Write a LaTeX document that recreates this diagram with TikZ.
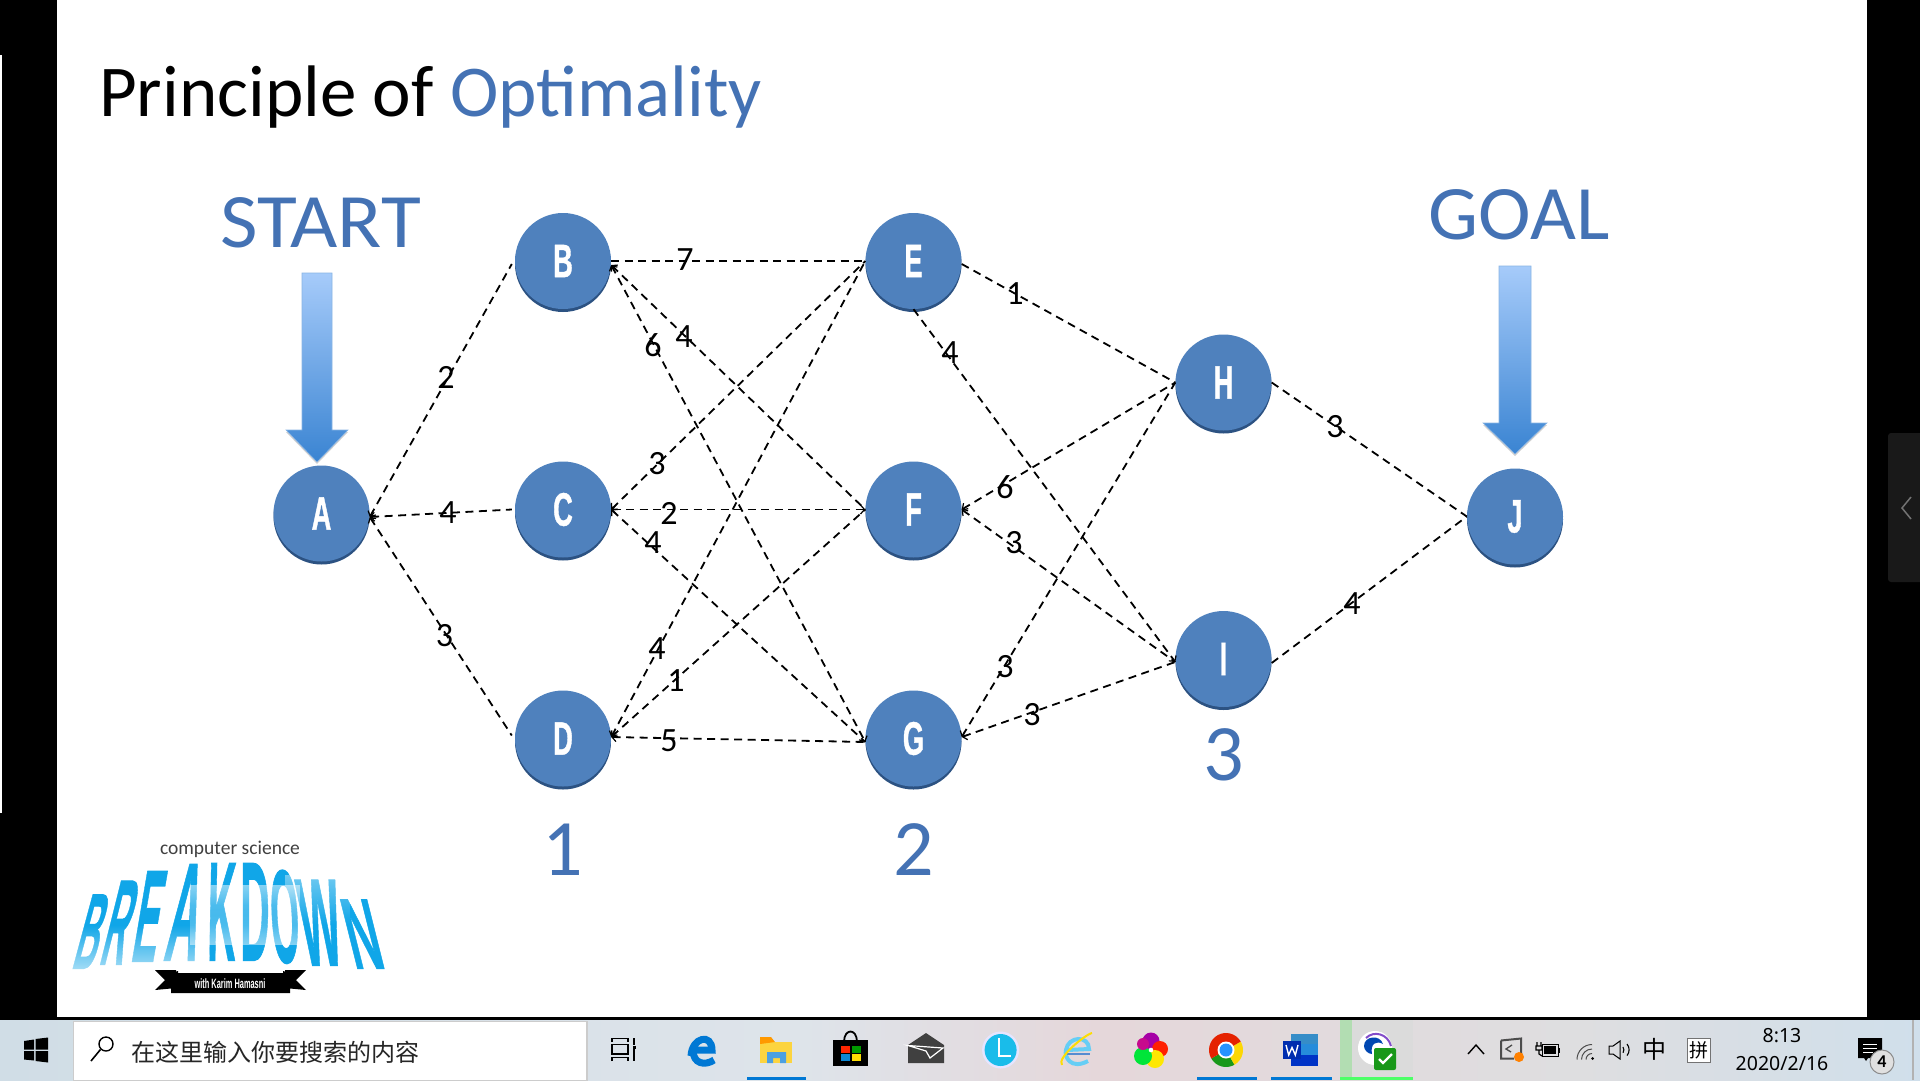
\documentclass[tikz,border=0pt]{standalone}
\usepackage{fontspec}
\usetikzlibrary{arrows.meta,fadings,shapes.geometric}
\setmainfont{Carlito}
\newfontfamily\condb[FakeStretch=0.58,FakeBold=0.8]{Liberation Sans Bold}
\newfontfamily\logof[FakeBold=1]{Liberation Sans Bold}
\newfontfamily\ribf[FakeStretch=0.55]{Liberation Sans Bold}
\newfontfamily\cjk{Noto Sans CJK SC}
\newfontfamily\clockf{Noto Sans}
\newfontfamily\startf[FakeStretch=1.06]{Carlito}
\newfontfamily\goalf[FakeStretch=1.03]{Carlito}
\definecolor{slideblue}{HTML}{4472B4}
\definecolor{nodeblue}{HTML}{4F81BD}
\definecolor{lipblue}{HTML}{2C5282}
\definecolor{barblue}{HTML}{0078D4}
\definecolor{logoblue}{HTML}{10A6E8}
\definecolor{arrowtop}{HTML}{A6CBFA}
\definecolor{arrowbot}{HTML}{3A84D2}
\tikzset{
  vtx/.style={circle,draw=none,fill=nodeblue,minimum size=96pt,inner sep=0pt,text=white,
    font=\condb\fontsize{47}{47}\selectfont,
    preaction={fill=lipblue,transform canvas={yshift=-3pt}}},
  edgeline/.style={draw=black,line width=1.8pt,dash pattern=on 8pt off 5.5pt},
  lefttip/.style={edgeline,{Straight Barb[length=4pt,width=9pt,line width=1.2pt]}-},
  bothtip/.style={edgeline,{Straight Barb[length=4pt,width=9pt,line width=1.2pt]}-{Straight Barb[length=4pt,width=9pt,line width=1.2pt]}},
  righttip/.style={edgeline,-{Straight Barb[length=4pt,width=9pt,line width=1.2pt]}},
  wlabel/.style={inner sep=0pt,text=black,font=\fontsize{34}{34}\selectfont},
  stagenum/.style={inner sep=0pt,text=slideblue,anchor=base,font=\fontsize{80}{80}\selectfont},
  ulbar/.style={fill=barblue,draw=none},
}
\newcommand{\logoL}[7]{% name,x,y,letter,yscale,slant,xscale
  \begin{scope}[shift={(#2,#3)},xslant=#6,yscale=#5,xscale=#7]
    \node[transform shape,inner sep=0pt,anchor=south,text=logoblue,text height=34.4pt,text depth=0pt,font=\logof\fontsize{48}{48}\selectfont] (#1) at (0,0) {#4};
  \end{scope}}
\begin{document}
\begin{tikzpicture}[x=1pt,y=-1pt]
\useasboundingbox (0,0) rectangle (1920,1080);
% screen background
\fill[black] (0,0) rectangle (1920,1080);
\fill[white] (57,0) rectangle (1867,1017);
\fill[white] (0,55) rectangle (2,813);
\fill[black!90!white,rounded corners=3pt] (1888,433) rectangle (1925,582);
\draw[black!55!white,line width=1.5pt] (1911,497) -- (1902,508) -- (1911,519);

% taskbar
\fill[left color={rgb,255:red,208;green,221;blue,230},right color={rgb,255:red,222;green,228;blue,234}] (0,1020) rectangle (800,1080);
\fill[left color={rgb,255:red,222;green,228;blue,234},right color={rgb,255:red,229;green,215;blue,218}] (800,1020) rectangle (1100,1080);
\fill[left color={rgb,255:red,229;green,215;blue,218},right color={rgb,255:red,222;green,222;blue,224}] (1100,1020) rectangle (1580,1080);
\fill[left color={rgb,255:red,222;green,222;blue,224},right color={rgb,255:red,208;green,223;blue,235}] (1580,1020) rectangle (1920,1080);
\fill[black!30!white] (1912,1020) rectangle (1914,1080);
% windows logo
\fill[black] (24,1041) -- (34,1039.5) -- (34,1049.5) -- (24,1049.5) -- cycle;
\fill[black] (35.5,1039) -- (48,1037.5) -- (48,1049.5) -- (35.5,1049.5) -- cycle;
\fill[black] (24,1051) -- (34,1051) -- (34,1060.5) -- (24,1059.5) -- cycle;
\fill[black] (35.5,1051) -- (48,1051) -- (48,1062.5) -- (35.5,1061) -- cycle;
% search box
\fill[white,draw=black!20!white,line width=1.5pt] (73.5,1021.5) rectangle (587,1081);
\draw[black,line width=1.4pt] (106,1044) circle[radius=7pt];
\draw[black,line width=1.6pt] (100.5,1049.5) -- (91,1061);
\node[inner sep=0pt,anchor=west,text=black!85!white,font=\cjk\fontsize{24}{24}\selectfont] (searchtext) at (131.5,1052) {在这里输入你要搜索的内容};
% task view
\draw[black,line width=1.2pt] (612,1042) -- (612,1038.5) -- (628,1038.5) -- (628,1042);
\draw[black,line width=1.2pt] (612,1044.5) rectangle (628,1054);
\draw[black,line width=1.2pt] (612,1061) -- (612,1057.5) -- (628,1057.5) -- (628,1061);
\draw[black,line width=1.2pt] (634,1038) -- (634,1045) (634,1049) -- (634,1061);
\fill[black] (632.5,1045.5) rectangle (635.5,1048.5);
% edge icon
\draw[barblue,line width=7pt] (691,1056) .. controls (692,1037) and (712,1033) .. (712,1050) -- (694,1050);
\draw[barblue,line width=7pt] (693,1050) .. controls (693,1064) and (705,1066) .. (714,1060);
% folder
\fill[yellow!60!orange!75!white] (760,1042) rectangle (792,1063);
\fill[orange!80!yellow] (760,1037) -- (771,1037) -- (775,1042) -- (760,1044) -- cycle;
\fill[barblue!70!white] (767,1063) -- (767,1052) -- (786,1052) -- (786,1063) -- (780,1063) -- (780,1058) -- (773,1058) -- (773,1063) -- cycle;
\fill[ulbar] (746.5,1077) rectangle (806,1080);
% store
\draw[black,line width=1.8pt] (844,1042) .. controls (844,1028) and (857,1028) .. (857,1042);
\fill[black] (833,1040) rectangle (868,1066);
\fill[red!70!orange] (841,1045.5) rectangle (850,1052.5);
\fill[green!60!black] (851.5,1045.5) rectangle (860.5,1052.5);
\fill[cyan!70!blue] (841,1053.5) rectangle (850,1061);
\fill[yellow!80!orange] (851.5,1053.5) rectangle (860.5,1061);
% mail
\fill[black!75!white] (908,1045) -- (926,1033) -- (944,1045) -- (944,1063) -- (908,1063) -- cycle;
\draw[white,line width=1.2pt] (908,1045.5) -- (943,1048) -- (930,1058) -- (926,1051) -- cycle;
% L clock
\fill[blue!10!white] (1000.6,1050) circle[radius=18.5pt];
\fill[barblue!55!cyan!90!white] (1000.6,1050) circle[radius=16pt];
\draw[white,line width=2.4pt] (999,1038) -- (999,1056) -- (1011,1056);
% IE
\draw[cyan!60!white,line width=4pt] (1088,1061) .. controls (1071,1070) and (1064,1057) .. (1066,1050) .. controls (1068,1036) and (1089,1035) .. (1089,1049) -- (1067,1050);
\draw[cyan!50!blue!70!white,line width=1.5pt] (1067,1054) -- (1090,1054);
\draw[yellow!80!orange,line width=2pt] (1062,1065) .. controls (1056,1058) and (1086,1034) .. (1092,1033);
% colour wheel
\fill[violet!70!magenta] (1151,1041) circle[radius=8.5pt];
\fill[red!75!orange] (1160,1049) circle[radius=8pt];
\fill[yellow!90!orange] (1155,1059) circle[radius=9pt];
\fill[green!75!cyan!90!black] (1143,1056) circle[radius=9pt];
\fill[magenta!80!blue] (1143,1044) circle[radius=6pt];
\fill[white] (1151,1050) circle[radius=2.3pt];
% chrome
\fill[green!55!black!90!white] (1226,1050) -- ++(210:17pt) arc[start angle=210,end angle=300,radius=17pt] -- cycle;
\fill[yellow!75!orange] (1226,1050) -- ++(300:17pt) arc[start angle=300,end angle=390,radius=17pt] -- cycle;
\fill[red!70!orange!90!black] (1226,1050) -- ++(30:17pt) arc[start angle=30,end angle=210,radius=17pt] -- cycle;
\fill[white] (1226,1050) circle[radius=8.5pt];
\fill[blue!50!cyan!85!white] (1226,1050) circle[radius=6.5pt];
\fill[ulbar] (1196.5,1077) rectangle (1257,1080);
% word
\fill[cyan!30!barblue!90!white] (1291,1033.5) rectangle (1318,1044);
\fill[barblue!85!white] (1291,1044) rectangle (1318,1055);
\fill[blue!50!barblue!85!black] (1291,1055) rectangle (1318,1066);
\fill[blue!50!barblue!75!black] (1283,1041) rectangle (1301,1059);
\draw[white,line width=1.4pt] (1286,1045) -- (1288.7,1055) -- (1292,1047.5) -- (1295.3,1055) -- (1298,1045);
\fill[ulbar] (1271,1077) rectangle (1332,1080);
% active app
\fill[black!14!white] (1352,1020) rectangle (1413,1077);
\fill[green!55!black!30!white] (1340,1020) rectangle (1352,1077);
\fill[green!85!cyan!70!white] (1340,1077) rectangle (1413,1080);
\fill[white] (1375,1048) circle[radius=17pt];
\draw[violet!60!blue!70!white,line width=2pt] (1366,1038) .. controls (1374,1030) and (1388,1034) .. (1391,1046);
\fill[blue!60!cyan!70!black] (1364,1046) .. controls (1364,1036) and (1380,1034) .. (1383,1044) .. controls (1376,1040) and (1370,1044) .. (1372,1054) .. controls (1368,1054) and (1364,1050) .. (1364,1046) -- cycle;
\fill[green!55!black!90!white,rounded corners=2pt] (1374,1048) rectangle (1396,1070);
\draw[white,line width=2.4pt] (1379,1059) -- (1383,1063) -- (1392,1054);
% tray
\draw[black,line width=1.4pt] (1468,1054) -- (1476,1045) -- (1484,1054);
\draw[black!70!white,line width=2pt] (1501,1040.5) -- (1521,1038.5) -- (1521,1057) (1501,1040.5) -- (1501,1058.5) -- (1514,1058.5);
\draw[black!70!white,line width=1.3pt] (1512,1045) -- (1506,1049) -- (1511,1052);
\fill[orange] (1519,1057) circle[radius=5pt];
\draw[black,line width=1.2pt] (1537,1042) -- (1537,1046) (1541,1042) -- (1541,1046) (1536,1046) rectangle (1542,1050) (1539,1050) -- (1539,1054) -- (1542,1056);
\draw[black,line width=1pt] (1542,1044) rectangle (1558,1056);
\fill[black] (1544,1046) rectangle (1556,1054);
\fill[black] (1558,1048) rectangle (1560,1053);
\fill[black] (1592.5,1058.5) circle[radius=1.5pt];
\draw[black!70!white,line width=1pt] (1586,1059.5) arc[start angle=180,end angle=90,radius=6pt];
\draw[black!70!white,line width=1pt] (1581.5,1059.5) arc[start angle=180,end angle=90,radius=10.5pt];
\draw[black!70!white,line width=1pt] (1577,1059.5) arc[start angle=180,end angle=90,radius=15pt];
\draw[black,line width=1pt] (1609,1046) -- (1613,1046) -- (1620,1041) -- (1620,1059) -- (1613,1054) -- (1609,1054) -- cycle;
\draw[black,line width=1.1pt] (1623,1047) arc[start angle=35,end angle=-35,radius=5pt];
\draw[black,line width=1.1pt] (1627,1044) arc[start angle=40,end angle=-40,radius=9pt];
\node[inner sep=0pt,text=black,font=\cjk\fontsize{24}{24}\selectfont] (zhong) at (1654,1049) {中};
\node[inner sep=0pt,draw=black!55!white,fill=white,line width=.8pt,minimum width=23pt,minimum height=24pt,text=black,font=\cjk\fontsize{19}{19}\selectfont] (pin) at (1698.5,1050) {拼};
\node[inner sep=0pt,text=black,font=\clockf\fontsize{19.5}{19.5}\selectfont] (clock) at (1782,1036) {8:13};
\node[inner sep=0pt,text=black,font=\clockf\fontsize{19.5}{19.5}\selectfont] (date) at (1782,1064) {2020/2/16};
\fill[black] (1858,1038) -- (1882,1038) -- (1882,1058) -- (1868,1058) -- (1866,1061) -- (1864,1058) -- (1858,1058) -- cycle;
\draw[white,line width=1pt] (1863,1044) -- (1877,1044) (1863,1048) -- (1877,1048) (1863,1052) -- (1873,1052);
\node[circle,draw=black!45!white,fill=black!12!white,line width=1pt,minimum size=24pt,inner sep=0pt,text=black,font=\bfseries\fontsize{18}{18}\selectfont] (badge) at (1882,1062) {4};

% title
\node[inner sep=0pt,anchor=base west,text=black,font=\fontsize{73}{73}\selectfont] (title) at (99,116) {Principle of \textcolor{slideblue}{Optimality}};
\node[inner sep=0pt,anchor=base,text=slideblue,font=\startf\fontsize{77}{77}\selectfont] (start) at (320.5,247) {START};
\node[inner sep=0pt,anchor=base,text=slideblue,font=\goalf\fontsize{77}{77}\selectfont] (goal) at (1519,239) {GOAL};

% down arrows
\fill[black,opacity=.18] (286,432) -- (348,432) -- (317,464) -- cycle;
\path[draw=arrowbot!60!white,line width=.6pt,top color=arrowtop,bottom color=arrowbot] (302,273) -- (332,273) -- (332,430) -- (348,430) -- (317,462) -- (286,430) -- (302,430) -- cycle;
\fill[black,opacity=.18] (1483,425) -- (1547,425) -- (1515,456) -- cycle;
\path[draw=arrowbot!60!white,line width=.6pt,top color=arrowtop,bottom color=arrowbot] (1499,266) -- (1531,266) -- (1531,423) -- (1547,423) -- (1515,454) -- (1483,423) -- (1499,423) -- cycle;

% vertices
\node[vtx] (A) at (321.5,513.5) {\raisebox{-2pt}{A}};
\node[vtx] (B) at (563,261) {\raisebox{-2pt}{B}};
\node[vtx] (C) at (563,509.5) {\raisebox{-2pt}{C}};
\node[vtx] (D) at (563,738.5) {\raisebox{-2pt}{D}};
\node[vtx] (E) at (913.5,261) {\raisebox{-2pt}{E}};
\node[vtx] (F) at (913.5,509.5) {\raisebox{-2pt}{F}};
\node[vtx] (G) at (913.5,738.5) {\raisebox{-2pt}{G}};
\node[vtx] (H) at (1223.5,382.5) {\raisebox{-2pt}{H}};
\node[vtx] (I) at (1223.5,659) {\raisebox{-2pt}{I}};
\node[vtx] (J) at (1515,516.5) {\raisebox{-2pt}{J}};

% connectors
\draw[lefttip] ([yshift=-3.5pt]A.east) -- ([yshift=-3pt,xshift=-3pt]B.west);
\draw[lefttip] ([yshift=-3.5pt]A.east) -- ([xshift=-3pt]C.west);
\draw[lefttip] ([yshift=-3.5pt]A.east) -- ([yshift=3pt,xshift=-3pt]D.west);
\draw[edgeline] (B.east) -- (E.west);
\draw[lefttip] ([yshift=-4pt]B.east) -- (F.west);
\draw[bothtip] ([yshift=-4pt]B.east) -- ([yshift=-3.5pt]G.west);
\draw[lefttip] (C.east) -- (E.west);
\draw[bothtip] (C.east) -- (F.west);
\draw[lefttip] (C.east) -- ([yshift=-3.5pt]G.west);
\draw[lefttip] ([yshift=1.5pt]D.east) -- (E.west);
\draw[lefttip] ([yshift=1.5pt]D.east) -- (F.west);
\draw[lefttip] ([yshift=1.5pt]D.east) -- ([yshift=-3.5pt]G.west);
\draw[edgeline] ([yshift=-3pt]E.east) -- (H.west);
\draw[righttip] (E.south) -- ([yshift=-3pt]I.west);
\draw[lefttip] (F.east) -- (H.west);
\draw[lefttip] (F.east) -- ([yshift=-3pt]I.west);
\draw[lefttip] ([yshift=1.5pt]G.east) -- (H.west);
\draw[lefttip] ([yshift=1.5pt]G.east) -- ([yshift=-3pt]I.west);
\draw[edgeline] (H.east) -- (J.west);
\draw[edgeline] ([yshift=-4pt]I.east) -- (J.west);

% weights
\node[wlabel] (w1) at (446,377) {2};
\node[wlabel] (w2) at (448,513) {4};
\node[wlabel] (w3) at (444.5,635.5) {3};
\node[wlabel] (w4) at (685,260) {7};
\node[wlabel] (w5) at (684,337) {4};
\node[wlabel] (w6) at (653,345) {6};
\node[wlabel] (w7) at (657,464) {3};
\node[wlabel] (w8) at (669,513) {2};
\node[wlabel] (w9) at (653,543) {4};
\node[wlabel] (w10) at (657,649) {4};
\node[wlabel] (w11) at (676,681) {1};
\node[wlabel] (w12) at (669,741) {5};
\node[wlabel] (w13) at (1015,294) {1};
\node[wlabel] (w14) at (950,353) {4};
\node[wlabel] (w15) at (1005,487) {6};
\node[wlabel] (w16) at (1014,543) {3};
\node[wlabel] (w17) at (1005,667) {3};
\node[wlabel] (w18) at (1032,715) {3};
\node[wlabel] (w19) at (1335,427) {3};
\node[wlabel] (w20) at (1352,604) {4};

% stage numbers
\node[stagenum] (s1) at (562.5,875) {1};
\node[stagenum] (s2) at (913.5,875) {2};
\node[stagenum] (s3) at (1223.5,780) {3};

% logo
\node[inner sep=0pt,text=black!75!white,font=\fontsize{19.5}{19.5}\selectfont] (csb) at (230,849) {computer science};
\logoL{lB}{82}{969}{B}{2.24}{.27}{.66}
\logoL{lR}{110}{965}{R}{2.53}{.25}{.7}
\logoL{lE}{142}{962}{E}{2.73}{.17}{.78}
\logoL{lA}{179}{961}{A}{2.91}{.15}{.95}
\logoL{lK}{221}{961}{K}{2.94}{.02}{.82}
\logoL{lD}{255}{961}{D}{2.94}{0}{.84}
\logoL{lO}{287}{963}{O}{2.76}{-.05}{.76}
\logoL{lW}{325}{966}{W}{2.59}{-.12}{.9}
\logoL{lN}{371}{969}{N}{2.09}{-.25}{.95}
\fill[white,opacity=.65,path fading=north] (60,925) rectangle (210,972);
\fill[white,opacity=.5,path fading=south] (190,885) rectangle (300,925);
\fill[white,opacity=.5,path fading=north] (190,905) rectangle (300,945);
\fill[white,opacity=.4,path fading=south] (285,875) rectangle (350,925);
% ribbon
\fill[black] (155,970) -- (176,970) -- (176,988) -- (155,990) -- (165,980) -- cycle;
\fill[black] (306,970) -- (285,970) -- (285,988) -- (306,990) -- (296,980) -- cycle;
\fill[black] (171,973) -- (178,971) -- (178,973) -- (283,973) -- (283,971) -- (290,973) -- (290,993) -- (171,993) -- cycle;
\node[inner sep=0pt,text=white,font=\ribf\fontsize{13.5}{13.5}\selectfont] (ribtext) at (230,984) {with Karim Hamasni};
\end{tikzpicture}
\end{document}
